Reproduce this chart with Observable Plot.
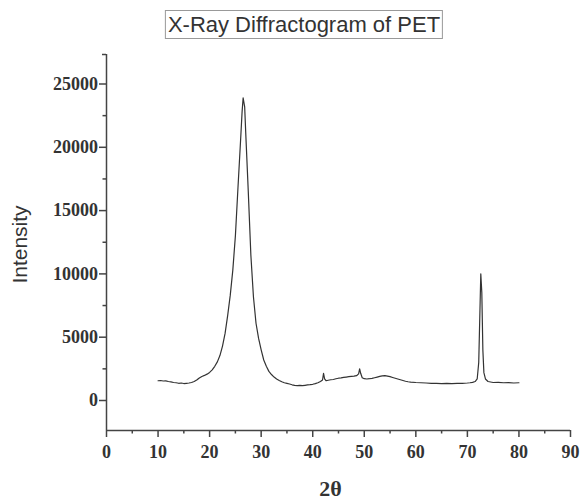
<!DOCTYPE html>
<html><head><meta charset="utf-8">
<script src="https://cdn.jsdelivr.net/npm/d3@7"></script>
<script src="https://cdn.jsdelivr.net/npm/@observablehq/plot@0.6"></script>
<style>
body{margin:0;background:#fff;}
#wrap{position:relative;width:580px;height:499px;}
#title{position:absolute;top:10px;left:304px;transform:translateX(-50%);border:1px solid #999;font:22px "Liberation Sans",Arial,sans-serif;color:#333;line-height:27px;padding:0 2px;white-space:nowrap;}
#chart{position:absolute;top:0;left:0;}
</style></head><body>
<div id="wrap"><div id="chart"></div><div id="title"></div></div>
<script>
const title = "X-Ray Diffractogram of PET";
const xLabel = "2θ";
const yLabel = "Intensity";

const twoTheta = [10.0,10.5,11.0,11.5,12.0,12.5,13.0,13.5,14.0,14.5,15.0,15.5,16.0,16.5,17.0,17.5,18.0,18.5,19.0,19.5,
  20.0,20.5,21.0,21.5,22.0,22.5,23.0,23.5,24.0,24.5,25.0,25.5,26.0,26.3,26.5,26.8,27.0,27.5,28.0,28.5,
  29.0,29.5,30.0,30.5,31.0,31.5,32.0,32.5,33.0,33.5,34.0,34.5,35.0,35.5,36.0,36.5,37.0,37.5,38.0,38.5,
  39.0,39.5,40.0,40.5,41.0,41.5,41.9,42.1,42.3,42.6,43.0,43.5,44.0,44.5,45.0,45.5,46.0,46.5,47.0,47.5,
  48.0,48.5,48.9,49.1,49.3,49.6,50.0,50.5,51.0,51.5,52.0,52.5,53.0,53.5,54.0,54.5,55.0,55.5,56.0,56.5,
  57.0,57.5,58.0,58.5,59.0,60.0,61.0,62.0,63.0,64.0,65.0,66.0,67.0,68.0,69.0,70.0,70.5,71.0,71.5,71.9,
  72.2,72.4,72.6,72.8,73.0,73.2,73.5,74.0,74.5,75.0,76.0,77.0,78.0,79.0,80.0];
const intensity = [1560,1580,1540,1550,1500,1470,1420,1400,1360,1380,1340,1360,1380,1420,1500,1620,1780,1900,1980,2080,
  2220,2420,2700,3050,3550,4300,5300,6700,8300,10300,13000,16800,20500,22800,23900,23200,21200,16500,11500,8200,
  6100,4900,4000,3200,2700,2300,2050,1850,1700,1580,1480,1400,1350,1300,1240,1200,1180,1190,1170,1200,
  1230,1250,1280,1330,1400,1500,1620,2150,1700,1560,1600,1640,1660,1720,1760,1780,1820,1850,1880,1900,
  1920,1960,2100,2500,2150,1800,1720,1700,1720,1750,1800,1850,1900,1940,1960,1920,1880,1820,1760,1700,
  1640,1580,1520,1480,1450,1420,1400,1380,1360,1350,1340,1350,1340,1360,1360,1380,1400,1430,1500,1700,
  3000,6500,10000,8500,4000,2200,1700,1500,1460,1420,1430,1400,1410,1380,1400];

const xTicks = [0,10,20,30,40,50,60,70,80,90];
const xMinorTicks = [5,15,25,35,45,55,65,75,85];
const yTicks = [0,5000,10000,15000,20000,25000];
const yMinorTicks = [2500,7500,12500,17500,22500];
const xDomain = [0, 90];
const yDomain = [-2370, 27330];

document.getElementById("title").textContent = title;

const data = twoTheta.map((x, i) => ({x, y: intensity[i]}));
const axisColor = "#444";
const tickFont = {fontFamily: "Liberation Serif", fontSize: 18, fontWeight: "bold", fill: "#333"};

const chart = Plot.plot({
  width: 580, height: 499,
  marginLeft: 106, marginRight: 10, marginTop: 54, marginBottom: 69,
  x: {domain: xDomain},
  y: {domain: yDomain},
  style: {background: "transparent", color: "#333", overflow: "visible"},
  marks: [
    Plot.axisX({ticks: xTicks, tickSize: 7, tickPadding: 8, tickFormat: d => String(d), label: null, stroke: axisColor, strokeWidth: 1.5, ...tickFont}),
    Plot.axisX({ticks: xMinorTicks, tickSize: 3.5, text: null, label: null, stroke: axisColor, strokeWidth: 1.5}),
    Plot.axisY({ticks: yTicks, tickSize: 7, tickPadding: 1.5, tickFormat: d => String(d), label: null, stroke: axisColor, strokeWidth: 1.5, ...tickFont}),
    Plot.axisY({ticks: yMinorTicks, tickSize: 3.5, text: null, label: null, stroke: axisColor, strokeWidth: 1.5}),
    Plot.axisY({ticks: [yDomain[1]], tickSize: 4, text: null, label: null, stroke: axisColor, strokeWidth: 1.5}),
    Plot.ruleX([xDomain[0]], {stroke: axisColor, strokeWidth: 1.5}),
    Plot.ruleY([yDomain[0]], {stroke: axisColor, strokeWidth: 1.5}),
    Plot.line(data, {x: "x", y: "y", stroke: "#333", strokeWidth: 1.2}),
    Plot.text([xLabel], {text: d => d, frameAnchor: "bottom", lineAnchor: "middle", textAnchor: "middle", dy: 58, dx: -8, fontFamily: "Liberation Serif", fontWeight: "bold", fontSize: 22, fill: "#333"}),
    Plot.text([yLabel], {text: d => d, frameAnchor: "left", textAnchor: "middle", lineAnchor: "middle", rotate: -90, dx: -86, dy: 2, fontFamily: "Liberation Sans", fontSize: 21, fill: "#333"})
  ]
});
document.getElementById("chart").appendChild(chart);
</script>
</body></html>
